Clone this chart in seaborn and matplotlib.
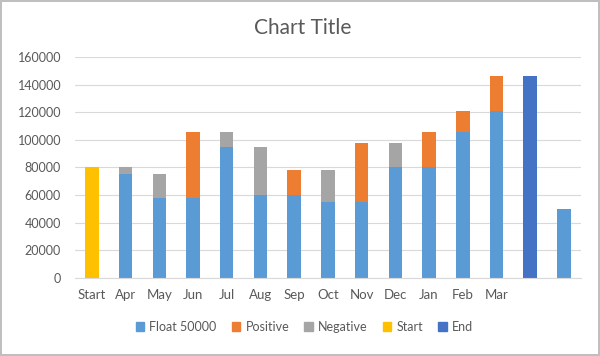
import matplotlib
matplotlib.use("Agg")
import matplotlib.pyplot as plt
import seaborn as sns
import numpy as np

categories = ["Start", "Apr", "May", "Jun", "Jul", "Aug", "Sep", "Oct", "Nov",
              "Dec", "Jan", "Feb", "Mar", "End", "Last"]
tick_labels = ["Start", "Apr", "May", "Jun", "Jul", "Aug", "Sep", "Oct", "Nov",
               "Dec", "Jan", "Feb", "Mar", "", ""]
float_vals = [0, 75000, 58000, 58000, 95000, 60000, 60000, 55000, 55000,
              80000, 80000, 106000, 121000, 0, 50000]
positive = [0, 0, 0, 48000, 0, 0, 18000, 0, 43000, 0, 26000, 15000, 25000, 0, 0]
negative = [0, 5000, 17000, 0, 11000, 35000, 0, 23000, 0, 18000, 0, 0, 0, 0, 0]
start = [80000] + [0] * 14
end = [0] * 13 + [146000, 0]

colors = {"Float 50000": "#5B9BD5", "Positive": "#ED7D31", "Negative": "#A5A5A5",
          "Start": "#FFC000", "End": "#4472C4"}

sns.set_style("white")
plt.rcParams["font.family"] = ["Lato", "DejaVu Sans"]

fig = plt.figure(figsize=(6, 3.56), dpi=100)
ax = fig.add_axes([0.125, 0.219, 0.843, 0.621])

fl = np.array(float_vals)
# draw the tall stacks first, the float part on top of them
sns.barplot(x=categories, y=fl + np.array(positive), color=colors["Positive"],
            width=0.4, saturation=1, ax=ax)
sns.barplot(x=categories, y=fl + np.array(negative), color=colors["Negative"],
            width=0.4, saturation=1, ax=ax)
sns.barplot(x=categories, y=start, color=colors["Start"], width=0.4, saturation=1, ax=ax)
sns.barplot(x=categories, y=end, color=colors["End"], width=0.4, saturation=1, ax=ax)
sns.barplot(x=categories, y=float_vals, color=colors["Float 50000"], width=0.4,
            saturation=1, ax=ax)

for p in ax.patches:
    p.set_linewidth(0)

ax.set_ylim(0, 160000)
ax.set_yticks(range(0, 160001, 20000))
ax.set_xlim(-0.5, len(categories) - 0.5)
ax.set_xticks(range(len(categories)))
ax.set_xticklabels(tick_labels)
ax.grid(axis="y", color="#D9D9D9", linewidth=0.8)
ax.set_axisbelow(True)
for s in ["top", "right", "left"]:
    ax.spines[s].set_visible(False)
ax.spines["bottom"].set_color("#D9D9D9")
ax.tick_params(axis="both", length=0, colors="#595959", labelsize=9)
ax.tick_params(axis="x", pad=8, labelsize=9.5)
ax.tick_params(axis="y", pad=10)
ax.set_xlabel("")
ax.set_ylabel("")

fig.suptitle("Chart Title", x=0.505, y=0.95, fontsize=15, color="#595959")

handles = [plt.Rectangle((0, 0), 1, 1, color=c) for c in colors.values()]
fig.legend(handles, list(colors.keys()), loc="center", bbox_to_anchor=(0.507, 0.081),
           ncol=5, frameon=False, fontsize=9, handlelength=0.7, handleheight=0.7,
           handletextpad=0.4, columnspacing=1.2, labelcolor="#595959")

fig.patch.set_edgecolor("#BFBFBF")
fig.patch.set_linewidth(1.5)
fig.savefig("out.png", dpi=100)
